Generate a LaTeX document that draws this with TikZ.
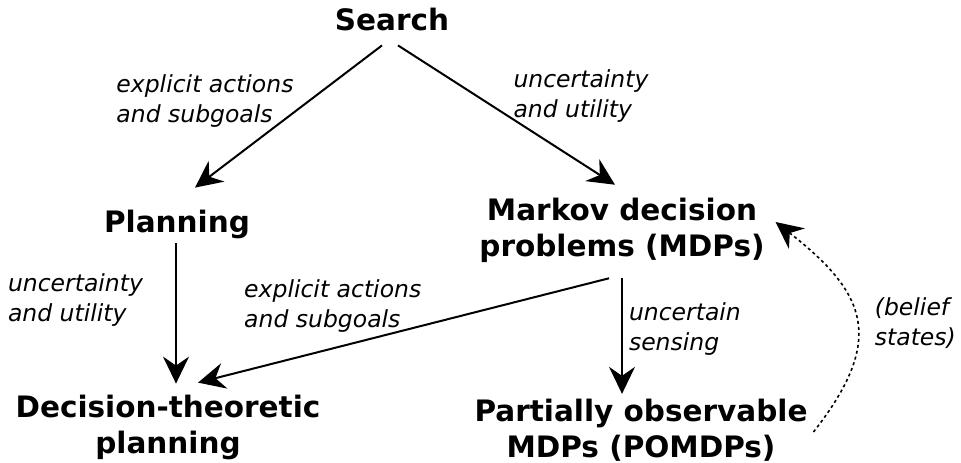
\documentclass[tikz,border=0pt]{standalone}
\usepackage{fontspec}
\setmainfont{DejaVu Sans}
\usetikzlibrary{arrows.meta}

\begin{document}
\begin{tikzpicture}[x=1pt, y=-1pt, line width=2pt,
  >={Stealth[length=27pt, width=26pt, inset=9pt]},
  lbl/.style={align=left, inner sep=0pt, font=\fontsize{23.5}{30}\selectfont\itshape}]
   \useasboundingbox (0,0) rectangle (961,463);
   \begin{scope}[every node/.style={align=center, inner sep=0pt, font=\fontsize{29.5}{36}\selectfont\bfseries}]
    \node (search) at (392,20) {Search};
    \node (plan) at (177,224) {Planning};
    \node (mdp) at (622,230) {Markov decision\\problems (MDPs)};
    \node (dtp) at (168,427) {Decision-theoretic\\planning};
    \node (pomdp) at (641,430) {Partially observable\\MDPs (POMDPs)};
   \end{scope}
   \begin{scope}[->]
    \draw ([shift={(-10,13)}]search.south) -- node[lbl, anchor=south east, pos=.5, xshift=6pt, yshift=-12pt] {explicit actions\\and subgoals} ([shift={(18,-21)}]plan.north);
    \draw ([shift={(6,13)}]search.south) -- node[lbl, anchor=south west, pos=.5, xshift=6pt, yshift=-8pt] {uncertainty\\and utility} ([shift={(-7,-12)}]mdp.north);
    \draw ([shift={(-1,4)}]plan.south) -- node[lbl, anchor=east, pos=.4, xshift=-32pt, yshift=-1pt] {uncertainty\\and utility} ([shift={(8,-10)}]dtp.north);
    \draw ([shift={(-13,15)}]mdp.south) -- node[lbl, anchor=south, pos=.66, xshift=-5pt, yshift=14pt] {explicit actions\\and subgoals} ([shift={(30,-11)}]dtp.north);
    \draw ([shift={(0,15)}]mdp.south) -- node[lbl, anchor=west, pos=.42, xshift=6pt, yshift=-2pt] {uncertain\\sensing} ([shift={(-19,-4)}]pomdp.north);
    \draw [line width=1.6pt, dash pattern=on 3pt off 3pt] ([shift={(5,2)}]pomdp.east) to[out=52, in=-38, looseness=1.4] node[lbl, anchor=west, pos=.5, xshift=18pt, yshift=-4pt] {(belief\\states)} ([shift={(10,-8)}]mdp.east);
   \end{scope}
\end{tikzpicture}
\end{document}
